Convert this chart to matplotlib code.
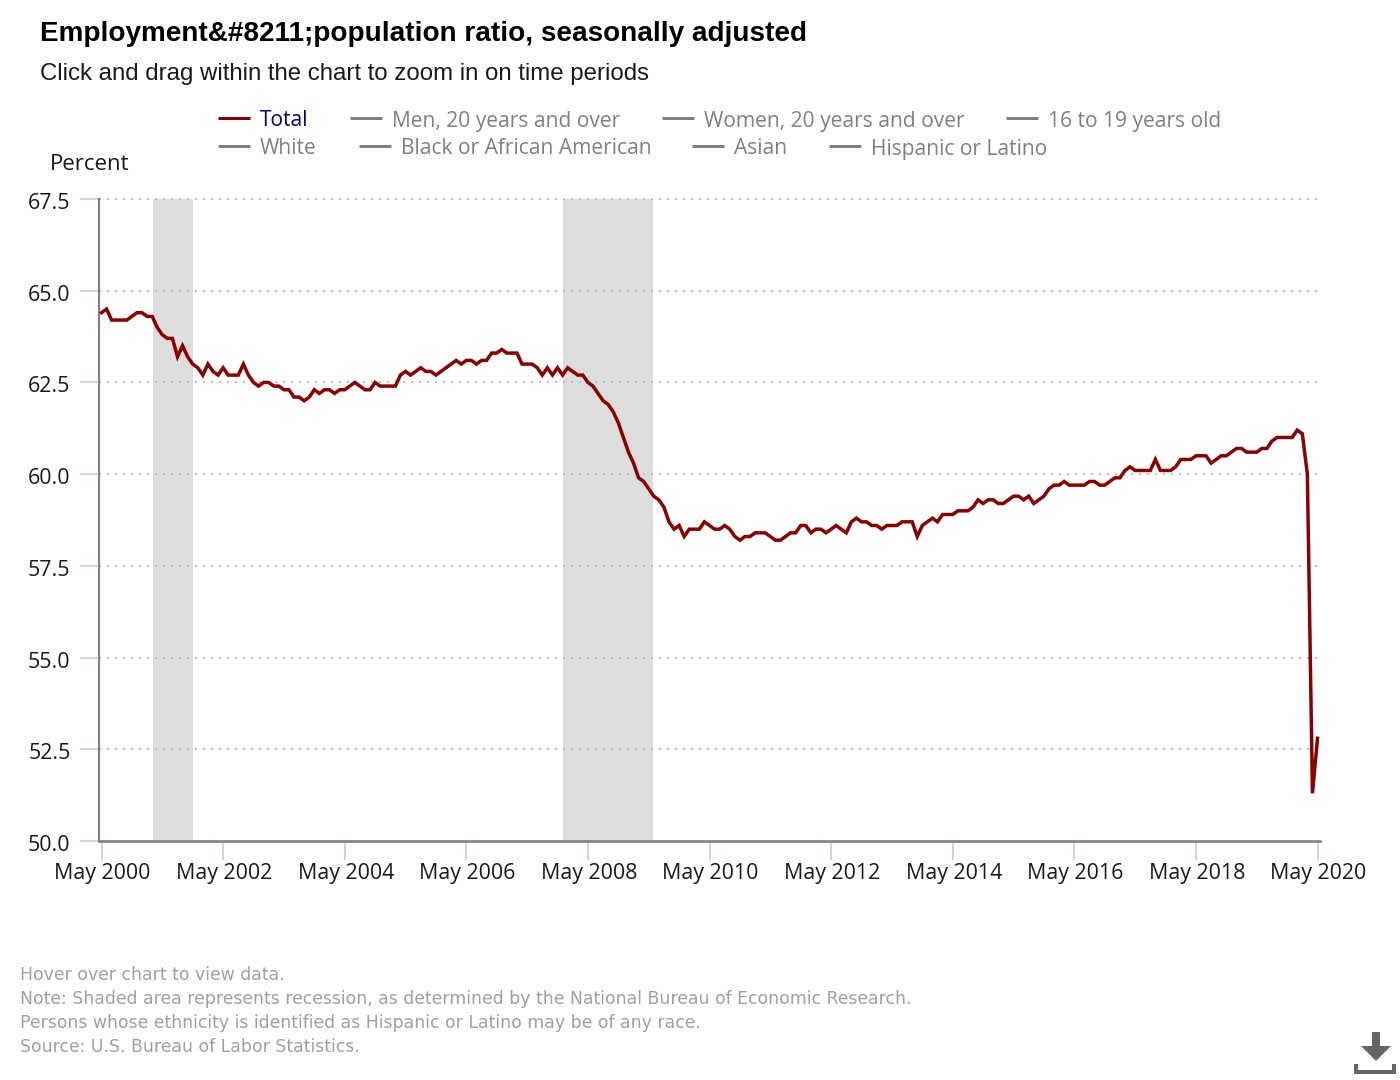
import numpy as np
import matplotlib
matplotlib.use('Agg')
import matplotlib.pyplot as plt
from matplotlib.patches import Polygon, Rectangle
from matplotlib.transforms import ScaledTranslation

# monthly values, May 2000 - May 2020
ratio = [
    64.4, 64.5, 64.2, 64.2, 64.2, 64.2, 64.3, 64.4,
    64.4, 64.3, 64.3, 64.0, 63.8, 63.7, 63.7, 63.2, 63.5, 63.2, 63.0, 62.9,
    62.7, 63.0, 62.8, 62.7, 62.9, 62.7, 62.7, 62.7, 63.0, 62.7, 62.5, 62.4,
    62.5, 62.5, 62.4, 62.4, 62.3, 62.3, 62.1, 62.1, 62.0, 62.1, 62.3, 62.2,
    62.3, 62.3, 62.2, 62.3, 62.3, 62.4, 62.5, 62.4, 62.3, 62.3, 62.5, 62.4,
    62.4, 62.4, 62.4, 62.7, 62.8, 62.7, 62.8, 62.9, 62.8, 62.8, 62.7, 62.8,
    62.9, 63.0, 63.1, 63.0, 63.1, 63.1, 63.0, 63.1, 63.1, 63.3, 63.3, 63.4,
    63.3, 63.3, 63.3, 63.0, 63.0, 63.0, 62.9, 62.7, 62.9, 62.7, 62.9, 62.7,
    62.9, 62.8, 62.7, 62.7, 62.5, 62.4, 62.2, 62.0, 61.9, 61.7, 61.4, 61.0,
    60.6, 60.3, 59.9, 59.8, 59.6, 59.4, 59.3, 59.1, 58.7, 58.5, 58.6, 58.3,
    58.5, 58.5, 58.5, 58.7, 58.6, 58.5, 58.5, 58.6, 58.5, 58.3, 58.2, 58.3,
    58.3, 58.4, 58.4, 58.4, 58.3, 58.2, 58.2, 58.3, 58.4, 58.4, 58.6, 58.6,
    58.4, 58.5, 58.5, 58.4, 58.5, 58.6, 58.5, 58.4, 58.7, 58.8, 58.7, 58.7,
    58.6, 58.6, 58.5, 58.6, 58.6, 58.6, 58.7, 58.7, 58.7, 58.3, 58.6, 58.7,
    58.8, 58.7, 58.9, 58.9, 58.9, 59.0, 59.0, 59.0, 59.1, 59.3, 59.2, 59.3,
    59.3, 59.2, 59.2, 59.3, 59.4, 59.4, 59.3, 59.4, 59.2, 59.3, 59.4, 59.6,
    59.7, 59.7, 59.8, 59.7, 59.7, 59.7, 59.7, 59.8, 59.8, 59.7, 59.7, 59.8,
    59.9, 59.9, 60.1, 60.2, 60.1, 60.1, 60.1, 60.1, 60.4, 60.1, 60.1, 60.1,
    60.2, 60.4, 60.4, 60.4, 60.5, 60.5, 60.5, 60.3, 60.4, 60.5, 60.5, 60.6,
    60.7, 60.7, 60.6, 60.6, 60.6, 60.7, 60.7, 60.9, 61.0, 61.0, 61.0, 61.0,
    61.2, 61.1, 60.0, 51.3, 52.8,
]

# recessions, months since May 2000 (Mar-Nov 2001, Dec 2007-Jun 2009)
recessions = [(10.2, 18), (91, 108.8)]

x_tick_months = list(range(0, 241, 24))
x_tick_labels = ['May 2000', 'May 2002', 'May 2004', 'May 2006', 'May 2008', 'May 2010',
                 'May 2012', 'May 2014', 'May 2016', 'May 2018', 'May 2020']
y_ticks = [50.0, 52.5, 55.0, 57.5, 60.0, 62.5, 65.0, 67.5]

legend_row1 = ['Total', 'Men, 20 years and over', 'Women, 20 years and over', '16 to 19 years old']
legend_row2 = ['White', 'Black or African American', 'Asian', 'Hispanic or Latino']

notes = ['Hover over chart to view data.',
         'Note: Shaded area represents recession, as determined by the National Bureau of Economic Research.',
         'Persons whose ethnicity is identified as Hispanic or Latino may be of any race.',
         'Source: U.S. Bureau of Labor Statistics.']

UI_FONT = 'Open Sans'
FIG_W, FIG_H = 1400, 1080
LEFT, RIGHT, TOP, BOTTOM = 99, 1320, 199, 841
X0, PX_PER_MONTH = 101.5, 5.0667


def main():
    fig = plt.figure(figsize=(FIG_W / 100, FIG_H / 100), dpi=100)
    ax = fig.add_axes([LEFT / FIG_W, 1 - BOTTOM / FIG_H, (RIGHT - LEFT) / FIG_W, (BOTTOM - TOP) / FIG_H])
    ax.set_xlim((LEFT - X0) / PX_PER_MONTH, (RIGHT - X0) / PX_PER_MONTH)
    ax.set_ylim(50, 67.5)

    # shading goes under the grid, which axisbelow puts at 0.5
    for start, end in recessions:
        ax.axvspan(start, end, color='#dddddd', lw=0, zorder=0.2)

    ax.set_yticks(y_ticks)
    ax.set_yticklabels([f'{v:.1f}' for v in y_ticks])
    ax.set_xticks(x_tick_months)
    ax.set_xticklabels(x_tick_labels)
    ax.grid(axis='y', color='#c0c0c0', lw=1.44, linestyle=(0, (1, 3)), clip_on=False)
    ax.yaxis.get_gridlines()[0].set_visible(False)
    ax.set_axisbelow(True)
    ax.plot(np.arange(len(ratio)), ratio, color='#8b0000', lw=2.5, zorder=3, solid_joinstyle='miter')

    for side in ('top', 'right'):
        ax.spines[side].set_visible(False)
    for side in ('left', 'bottom'):
        ax.spines[side].set_color('#808080')
    ax.spines['left'].set_linewidth(1.5)
    ax.spines['bottom'].set_linewidth(1.9)
    ax.tick_params(axis='both', length=13.5, width=1.44, color='#ccd6eb', labelcolor='#1a1a1a', labelsize=15.4)
    ax.tick_params(axis='x', pad=2.5)
    ax.tick_params(axis='y', pad=7)
    # labels sit a little off their ticks in the reference
    x_shift = ScaledTranslation(1 / 100, 0, fig.dpi_scale_trans)
    y_shift = ScaledTranslation(0, -2 / 100, fig.dpi_scale_trans)
    for label in ax.get_xticklabels():
        label.set_fontfamily(UI_FONT)
        label.set_transform(label.get_transform() + x_shift)
    for label in ax.get_yticklabels():
        label.set_fontfamily(UI_FONT)
        label.set_transform(label.get_transform() + y_shift)

    # overlay in pixel coordinates for the text around the plot
    over = fig.add_axes([0, 0, 1, 1], zorder=5)
    over.set_xlim(0, FIG_W)
    over.set_ylim(FIG_H, 0)
    over.axis('off')

    over.text(40, 34, 'Employment&#8211;population ratio, seasonally adjusted', family='Liberation Sans',
              fontsize=20.1, fontweight='bold', color='black', va='center')
    over.text(40, 74, 'Click and drag within the chart to zoom in on time periods', family='Liberation Sans',
              fontsize=17.3, color='#1a1a1a', va='center')
    over.text(50, 170, 'Percent', family=UI_FONT, fontsize=16, color='#1a1a1a', va='baseline')

    row1_x = [218, 350, 662, 1006]
    row2_x = [218, 359, 692, 829]
    for names, xs, y in ((legend_row1, row1_x, 118), (legend_row2, row2_x, 146)):
        for name, x in zip(names, xs):
            total = name == 'Total'
            over.plot([x - 0.5, x + 31.5], [y, y], color='#8b0000' if total else '#808080', lw=2.16,
                      solid_capstyle='butt')
            over.text(x + 42, y + 8.5, name, family=UI_FONT, fontsize=15.1,
                      color='#000080' if total else '#808080', va='baseline')

    for i, line in enumerate(notes):
        over.text(20, 975 + 24 * i, line, family='DejaVu Sans', fontsize=12.4, color='#a0a0a0', va='center')

    # download icon
    icon = '#666666'
    over.add_patch(Rectangle((1372, 1032), 8, 15, color=icon, lw=0))
    over.add_patch(Polygon([(1361, 1046), (1391, 1046), (1376, 1061)], color=icon, lw=0))
    over.add_patch(Rectangle((1354, 1070), 42, 4, color=icon, lw=0))
    over.add_patch(Rectangle((1354, 1064), 4, 7, color=icon, lw=0))
    over.add_patch(Rectangle((1392, 1064), 4, 7, color=icon, lw=0))

    fig.savefig('out.png', dpi=100)


if __name__ == '__main__':
    main()
